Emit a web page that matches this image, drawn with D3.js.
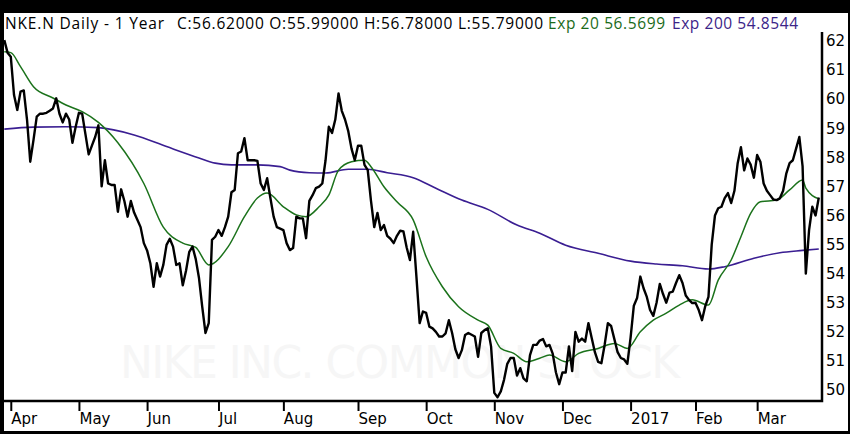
<!DOCTYPE html>
<html>
<head>
<meta charset="utf-8">
<script src="https://cdn.jsdelivr.net/npm/d3@7"></script>
<style>
  body { margin: 0; background: #000; }
  svg { display: block; }
  text { font-family: "DejaVu Sans", Verdana, sans-serif; }
</style>
</head>
<body>
<div id="chart"></div>
<script>
// Config
const width = 850;
const height = 434;

// --- Data ---
// daily closes, one per trading day, 30 Mar 2016 .. 28 Mar 2017
const closes = [
  62.03, 61.6, 61.46, 60.14, 59.63, 60.26, 60.3, 59.3, 57.85, 58.6,
  59.4, 59.5, 59.5, 59.53, 59.6, 59.68, 60.03, 59.5, 59.2, 59.5,
  59.3, 58.5, 59.05, 59.53, 59.5, 58.8, 58.1, 58.4, 58.7, 59.1,
  57.0, 57.9, 57.1, 57.05, 57.05, 56.13, 56.9, 56.5, 55.96, 56.5,
  56.1, 55.85, 55.6, 55.05, 54.8, 54.36, 53.55, 54.36, 53.9, 54.3,
  54.99, 55.2, 54.93, 54.3, 54.36, 53.6, 54.1, 54.75, 54.93, 54.5,
  53.85, 52.86, 51.96, 52.3, 55.16, 55.27, 55.5, 55.3, 55.6, 55.96,
  56.8, 56.88, 58.14, 58.2, 58.66, 57.9, 57.9, 57.9, 57.88, 57.1,
  56.88, 57.28, 56.6, 55.96, 55.6, 55.55, 55.5, 55.05, 54.81, 54.88,
  55.96, 55.9, 55.9, 55.22, 56.5, 56.7, 56.94, 56.99, 57.1, 57.9,
  59.05, 58.84, 59.3, 60.2, 59.6, 59.3, 58.9, 58.3, 57.9, 58.4,
  58.4, 57.74, 57.56, 56.5, 55.6, 56.09, 55.5, 55.67, 55.3, 55.2,
  55.05, 55.3, 55.48, 55.45, 54.9, 54.47, 55.44, 53.9, 52.3, 52.7,
  52.65, 52.18, 52.12, 52.0, 51.84, 51.84, 51.95, 52.4, 51.96, 51.4,
  51.1, 51.37, 51.89, 51.96, 51.9, 51.84, 51.14, 51.96, 52.06, 52.12,
  51.5, 49.9, 49.75, 49.95, 50.35, 50.9, 51.1, 51.1, 50.5, 50.75,
  50.4, 50.3, 51.2, 51.55, 51.55, 51.7, 51.75, 51.5, 51.55, 51.25,
  50.6, 50.2, 50.6, 50.6, 51.5, 50.65, 52.0, 51.66, 51.77, 51.66,
  52.3, 51.8, 51.3, 50.97, 50.92, 51.55, 52.3, 52.2, 51.75, 51.3,
  51.1, 51.05, 50.9, 51.8, 52.9, 53.16, 53.9, 53.5, 53.2, 52.75,
  52.55, 53.0, 53.65, 53.3, 53.0, 53.35, 53.38, 53.68, 53.95, 53.68,
  53.25, 53.1, 52.99, 53.0, 52.75, 52.4, 52.88, 53.2, 55.0, 56.0,
  56.25, 56.3, 56.6, 56.77, 56.43, 56.85, 57.8, 58.35, 57.55, 57.96,
  57.75, 57.3, 58.08, 57.85, 57.1, 56.85, 56.7, 56.55, 56.53, 56.59,
  56.85, 57.45, 57.8, 57.9, 58.3, 58.7, 57.7, 54.0, 55.5, 56.3,
  56.0, 56.62
];

// exponential averages, [trading-day index, value]
const ema20 = [
  [0, 61.63], [2, 61.6], [5, 61.12], [9, 60.43], [15, 60.04], [19, 59.8],
  [24, 59.57], [29, 59.2], [35, 58.5], [43, 57.1], [49, 55.6], [55, 55.05],
  [59, 54.9], [63, 54.3], [69, 54.93], [74, 55.96], [78, 56.6], [81, 56.77],
  [86, 56.3], [90, 56.02], [93, 55.96], [97, 56.3], [100, 56.7], [103, 57.56],
  [107, 57.85], [111, 57.9], [113, 57.68], [117, 56.99], [121, 56.47], [126, 55.85],
  [130, 54.58], [135, 53.55], [140, 52.86], [146, 52.4], [149, 52.23], [153, 51.43],
  [157, 51.26], [161, 50.97], [165, 51.09], [168, 51.2], [173, 50.97], [177, 51.26],
  [183, 51.43], [188, 51.6], [192, 51.43], [196, 52.0], [200, 52.4], [204, 52.64],
  [208, 52.92], [212, 53.1], [217, 52.92], [220, 53.78], [224, 54.47], [227, 55.27],
  [230, 56.07], [233, 56.47], [238, 56.53], [242, 56.88], [246, 57.22], [247, 56.94],
  [251, 56.57]
];

const ema200 = [
  [0, 58.97], [9, 59.04], [19, 59.05], [29, 59.02], [40, 58.77], [50, 58.37],
  [60, 57.98], [65, 57.8], [70, 57.74], [78, 57.74], [85, 57.68], [88, 57.56],
  [94, 57.47], [99, 57.46], [106, 57.59], [112, 57.59], [118, 57.47], [126, 57.3],
  [133, 56.94], [141, 56.53], [149, 56.21], [158, 55.67], [165, 55.39], [173, 54.98],
  [183, 54.7], [193, 54.43], [201, 54.33], [209, 54.27], [217, 54.16], [222, 54.24],
  [231, 54.53], [239, 54.72], [246, 54.8], [251, 54.85]
];

// month ticks (trading-day index of first session) and labels
const monthIdx = [2, 23, 44, 66, 86, 109, 130, 151, 172, 193, 213, 232];
const monthLabels = ["Apr", "May", "Jun", "Jul", "Aug", "Sep", "Oct", "Nov", "Dec", "2017", "Feb", "Mar"];
const priceTicks = [50, 51, 52, 53, 54, 55, 56, 57, 58, 59, 60, 61, 62];

// header pieces
const headerParts = [
  { text: "NKE.N Daily -  1 Year", x: 5, len: 159, color: "#000" },
  { text: "C:56.62000 O:55.99000 H:56.78000 L:55.79000", x: 177, len: 366, color: "#000" },
  { text: "Exp 20 56.5699", x: 548, len: 117, color: "#1a6b1a" },
  { text: "Exp 200 54.8544", x: 672, len: 126, color: "#3b2488" }
];

// --- Layout ---
const plot = { left: 4, right: 822, top: 32, bottom: 401 };

const x = d3.scaleLinear().domain([0, 251]).range([4.3, 818.8]);
const y = d3.scaleLinear().domain([50, 62]).range([390, 41]);

const svg = d3.select("#chart")
    .append("svg")
    .attr("width", width)
    .attr("height", height);

// black frame with white page inside
svg.append("rect").attr("width", width).attr("height", height).attr("fill", "#000");
svg.append("rect")
    .attr("x", 4).attr("y", 13)
    .attr("width", 844).attr("height", 418)
    .attr("fill", "#fff");

// watermark
svg.append("text")
    .attr("x", 120).attr("y", 378)
    .attr("textLength", 560)
    .attr("lengthAdjust", "spacing")
    .style("font-size", "44px")
    .attr("fill", "#f6f6f6")
    .text("NIKE  INC.  COMMON  STOCK");

// header
svg.append("g")
    .selectAll("text")
    .data(headerParts)
    .join("text")
    .attr("x", d => d.x)
    .attr("y", 29)
    .attr("textLength", d => d.len)
    .attr("lengthAdjust", "spacing")
    .attr("fill", d => d.color)
    .style("font-family", "'Open Sans', sans-serif")
    .style("font-size", "15.5px")
    .text(d => d.text);

// lines
const lineIdx = d3.line()
    .x(d => x(d[0]))
    .y(d => y(d[1]))
    .curve(d3.curveMonotoneX);

svg.append("path")
    .datum(ema200)
    .attr("fill", "none")
    .attr("stroke", "#3a1e92")
    .attr("stroke-width", 1.6)
    .attr("d", lineIdx);

svg.append("path")
    .datum(ema20)
    .attr("fill", "none")
    .attr("stroke", "#1b721b")
    .attr("stroke-width", 1.5)
    .attr("d", lineIdx);

const closeLine = d3.line()
    .x((d, i) => x(i))
    .y(d => y(d));

svg.append("path")
    .datum(closes)
    .attr("fill", "none")
    .attr("stroke", "#000")
    .attr("stroke-width", 2.4)
    .attr("stroke-linejoin", "round")
    .attr("d", closeLine);

// plot border (right + bottom)
svg.append("path")
    .attr("d", `M${plot.right},${plot.top}V${plot.bottom}H0`)
    .attr("fill", "none")
    .attr("stroke", "#000")
    .attr("stroke-width", 2.5);

// right price axis
const yAxis = d3.axisRight(y)
    .tickValues(priceTicks)
    .tickSize(0)
    .tickPadding(0)
    .tickFormat(d3.format("d"));

svg.append("g")
    .attr("transform", `translate(${plot.right + 4},0)`)
    .call(yAxis)
    .call(g => g.select(".domain").remove())
    .call(g => g.selectAll("text")
        .attr("fill", "#000")
        .style("font-family", "'DejaVu Sans', Verdana, sans-serif")
        .style("font-size", "15px"));

// bottom month axis
const xAxis = d3.axisBottom(x)
    .tickValues(monthIdx)
    .tickSize(10)
    .tickFormat((d, i) => monthLabels[i]);

svg.append("g")
    .attr("transform", `translate(0,${plot.bottom})`)
    .call(xAxis)
    .call(g => g.select(".domain").remove())
    .call(g => g.selectAll(".tick line").attr("stroke", "#000").attr("stroke-width", 2))
    .call(g => g.selectAll(".tick text")
        .attr("text-anchor", "start")
        .attr("x", 0)
        .attr("y", 12)
        .attr("fill", "#000")
        .style("font-family", "'DejaVu Sans', Verdana, sans-serif")
        .style("font-size", "15px"));
</script>
</body>
</html>
